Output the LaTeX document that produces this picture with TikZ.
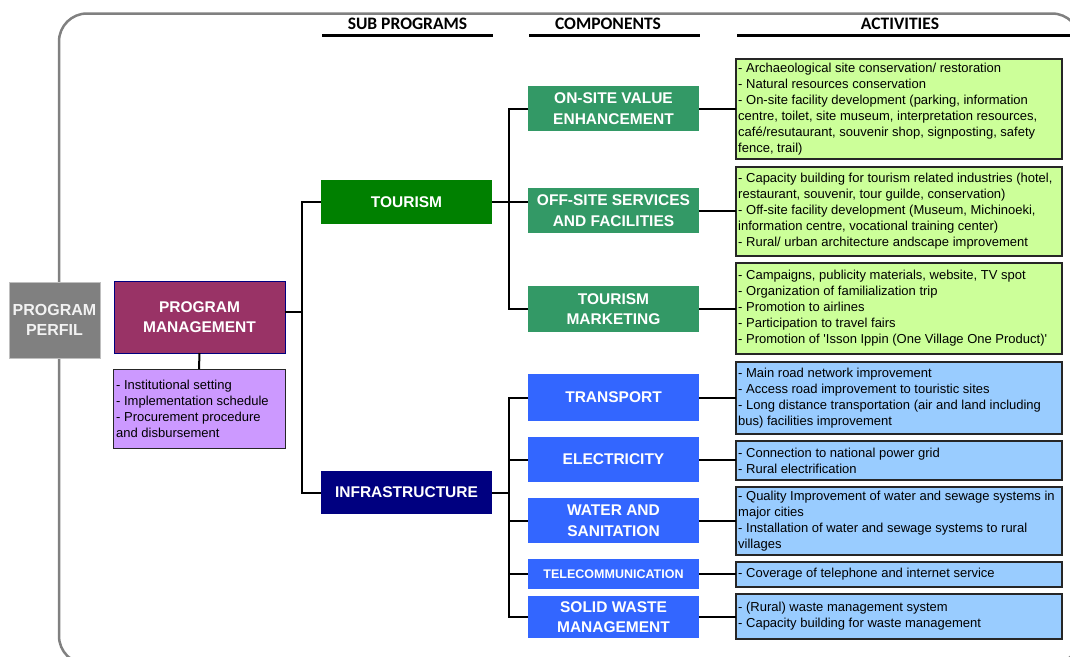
\documentclass[tikz,border=0pt]{standalone}
\usepackage{fontspec}
\setmainfont{Liberation Sans}
\newfontfamily\arial{Liberation Sans}
\newfontfamily\hdrfont{Carlito}
\definecolor{framegray}{HTML}{808080}
\definecolor{pmcol}{HTML}{993366}
\definecolor{pmact}{HTML}{CC99FF}
\definecolor{tourgreen}{HTML}{008000}
\definecolor{infranavy}{HTML}{000080}
\definecolor{compgreen}{HTML}{339966}
\definecolor{compblue}{HTML}{3366FF}
\definecolor{actgreen}{HTML}{CCFF99}
\definecolor{actblue}{HTML}{99CCFF}
\begin{document}
\begin{tikzpicture}[x=1pt,y=-1pt,
  bx/.style={rectangle, inner sep=0pt, outer sep=0pt, align=center, text=white,
    font=\arial\bfseries\fontsize{15.5}{20.5}\selectfont},
  actbox/.style={rectangle, inner sep=0pt, outer sep=0pt, draw=black!85, line width=1.3pt},
  acttext/.style={anchor=west, align=left, inner sep=0pt, font=\arial\fontsize{13}{16}\selectfont},
  conn/.style={line width=2pt, black},
  hdr/.style={inner sep=0pt, font=\hdrfont\bfseries\fontsize{17.5}{20}\selectfont},
  uline/.style={line width=3pt, black}
]
\useasboundingbox (0,0) rectangle (1070,656);
\begin{scope}
\clip (0,0) rectangle (1070,656);
\draw[framegray, line width=2.5pt, rounded corners=28pt] (59,13.5) rectangle (1080,664);
\end{scope}

% headers
\node[hdr] (h1) at (407.5,24) {SUB PROGRAMS};
\node[hdr] (h2) at (608,24) {COMPONENTS};
\node[hdr] (h3) at (900,24) {ACTIVITIES};
\coordinate (u1a) at (322,35); \coordinate (u1b) at (493,35);
\coordinate (u2a) at (529,35); \coordinate (u2b) at (700,35);
\coordinate (u3a) at (737,35); \coordinate (u3b) at (1070,35);
\draw[uline] (u1a) -- (u1b);
\draw[uline] (u2a) -- (u2b);
\draw[uline] (u3a) -- (u3b);

% left column
\node[bx, fill=framegray, draw=black!25, line width=0.8pt, text=black!5,
  font=\arial\bfseries\fontsize{16}{20.5}\selectfont,
  minimum width=91pt, minimum height=76pt] (perfil) at (54.5,320) {PROGRAM\\PERFIL};
\node[bx, fill=pmcol, draw=infranavy, line width=0.8pt,
  minimum width=171pt, minimum height=72pt] (pm) at (199.5,317) {PROGRAM\\MANAGEMENT};
\node[actbox, fill=pmact, line width=1pt, minimum width=172pt, minimum height=79pt] (pma) at (199,408.5) {};
\node[acttext] (pmat) at ([xshift=3pt]pma.west) {- Institutional setting\\- Implementation schedule\\- Procurement procedure\\and disbursement};

% sub programs
\node[bx, fill=tourgreen, minimum width=171pt, minimum height=44pt] (tour) at (406.5,202) {TOURISM};
\node[bx, fill=infranavy, minimum width=171pt, minimum height=43pt] (infra) at (406.5,492.5) {INFRASTRUCTURE};

% components
\node[bx, fill=compgreen, minimum width=171pt, minimum height=45pt] (onsite) at (613.5,108.5) {ON-SITE VALUE\\ENHANCEMENT};
\node[bx, fill=compgreen, minimum width=171pt, minimum height=45pt] (offsite) at (613.5,210.5) {OFF-SITE SERVICES\\AND FACILITIES};
\node[bx, fill=compgreen, minimum width=171pt, minimum height=46pt] (tmkt) at (613.5,309) {TOURISM\\MARKETING};
\node[bx, fill=compblue, minimum width=171pt, minimum height=47pt] (transp) at (613.5,397.5) {TRANSPORT};
\node[bx, fill=compblue, minimum width=171pt, minimum height=45pt] (elec) at (613.5,459.5) {ELECTRICITY};
\node[bx, fill=compblue, minimum width=171pt, minimum height=45pt] (water) at (613.5,520.5) {WATER AND\\SANITATION};
\node[bx, fill=compblue, minimum width=171pt, minimum height=30pt,
  font=\arial\bfseries\fontsize{12.5}{15}\selectfont] (telecom) at (613.5,574) {TELECOMMUNICATION};
\node[bx, fill=compblue, minimum width=171pt, minimum height=42pt] (solid) at (613.5,617) {SOLID WASTE\\MANAGEMENT};

% activities
\node[actbox, fill=actgreen, minimum width=326pt, minimum height=100pt] (a1) at (899,109) {};
\node[acttext] (a1t) at ([xshift=2pt]a1.west) {- Archaeological site conservation/ restoration\\- Natural resources conservation\\- On-site facility development (parking, information\\centre, toilet, site museum, interpretation resources,\\café/resutaurant, souvenir shop, signposting, safety\\fence, trail)};
\node[actbox, fill=actgreen, minimum width=326pt, minimum height=89pt] (a2) at (899,211.5) {};
\node[acttext] (a2t) at ([xshift=2pt]a2.west) {- Capacity building for tourism related industries (hotel,\\restaurant, souvenir, tour guilde, conservation)\\- Off-site facility development (Museum, Michinoeki,\\information centre, vocational training center)\\- Rural/ urban architecture andscape improvement};
\node[actbox, fill=actgreen, minimum width=326pt, minimum height=91pt] (a3) at (899,308.5) {};
\node[acttext] (a3t) at ([xshift=2pt]a3.west) {- Campaigns, publicity materials, website, TV spot\\- Organization of familialization trip\\- Promotion to airlines\\- Participation to travel fairs\\- Promotion of 'Isson Ippin (One Village One Product)'};
\node[actbox, fill=actblue, minimum width=326pt, minimum height=72pt] (a4) at (899,398) {};
\node[acttext] (a4t) at ([xshift=2pt]a4.west) {- Main road network improvement\\- Access road improvement to touristic sites\\- Long distance transportation (air and land including\\bus) facilities improvement};
\node[actbox, fill=actblue, minimum width=326pt, minimum height=39pt] (a5) at (899,460.5) {};
\node[acttext] (a5t) at ([xshift=2pt]a5.west) {- Connection to national power grid\\- Rural electrification};
\node[actbox, fill=actblue, minimum width=326pt, minimum height=68pt] (a6) at (899,521) {};
\node[acttext] (a6t) at ([xshift=2pt]a6.west) {- Quality Improvement of water and sewage systems in\\major cities\\- Installation of water and sewage systems to rural\\villages};
\node[actbox, fill=actblue, minimum width=326pt, minimum height=25pt] (a7) at (899,574.5) {};
\node[acttext] (a7t) at ([xshift=2pt]a7.west) {- Coverage of telephone and internet service};
\node[actbox, fill=actblue, minimum width=326pt, minimum height=45pt] (a8) at (899,616.5) {};
\node[acttext] (a8t) at ([xshift=2pt]a8.west) {- (Rural) waste management system\\- Capacity building for waste management};

% spines
\coordinate (s1) at (302,0);
\coordinate (s2) at (509,0);
\draw[conn] ([yshift=5pt]pm.east) -- ([yshift=5pt]pm.east -| s1);
\draw[conn] (tour.west) -- (tour.west -| s1) -- (infra.west -| s1) -- (infra.west);
\draw[conn] (pm.south) -- (pma.north);

\draw[conn] (tour.east) -- (offsite.west |- tour.east);
\draw[conn] (onsite.west) -- (onsite.west -| s2) -- (tmkt.west -| s2) -- (tmkt.west);

\draw[conn] (infra.east) -- (infra.east -| s2);
\draw[conn] (transp.west) -- (transp.west -| s2) -- (solid.west -| s2) -- (solid.west);
\draw[conn] (elec.west -| s2) -- (elec.west);
\draw[conn] (water.west -| s2) -- (water.west);
\draw[conn] (telecom.west -| s2) -- (telecom.west);

% component to activities
\draw[conn] (onsite.east) -- (a1.west |- onsite.east);
\draw[conn] (offsite.east) -- (a2.west |- offsite.east);
\draw[conn] (tmkt.east) -- (a3.west |- tmkt.east);
\draw[conn] (transp.east) -- (a4.west |- transp.east);
\draw[conn] (elec.east) -- (a5.west |- elec.east);
\draw[conn] (water.east) -- (a6.west |- water.east);
\draw[conn] (telecom.east) -- (a7.west |- telecom.east);
\draw[conn] (solid.east) -- (a8.west |- solid.east);
\end{tikzpicture}
\end{document}
